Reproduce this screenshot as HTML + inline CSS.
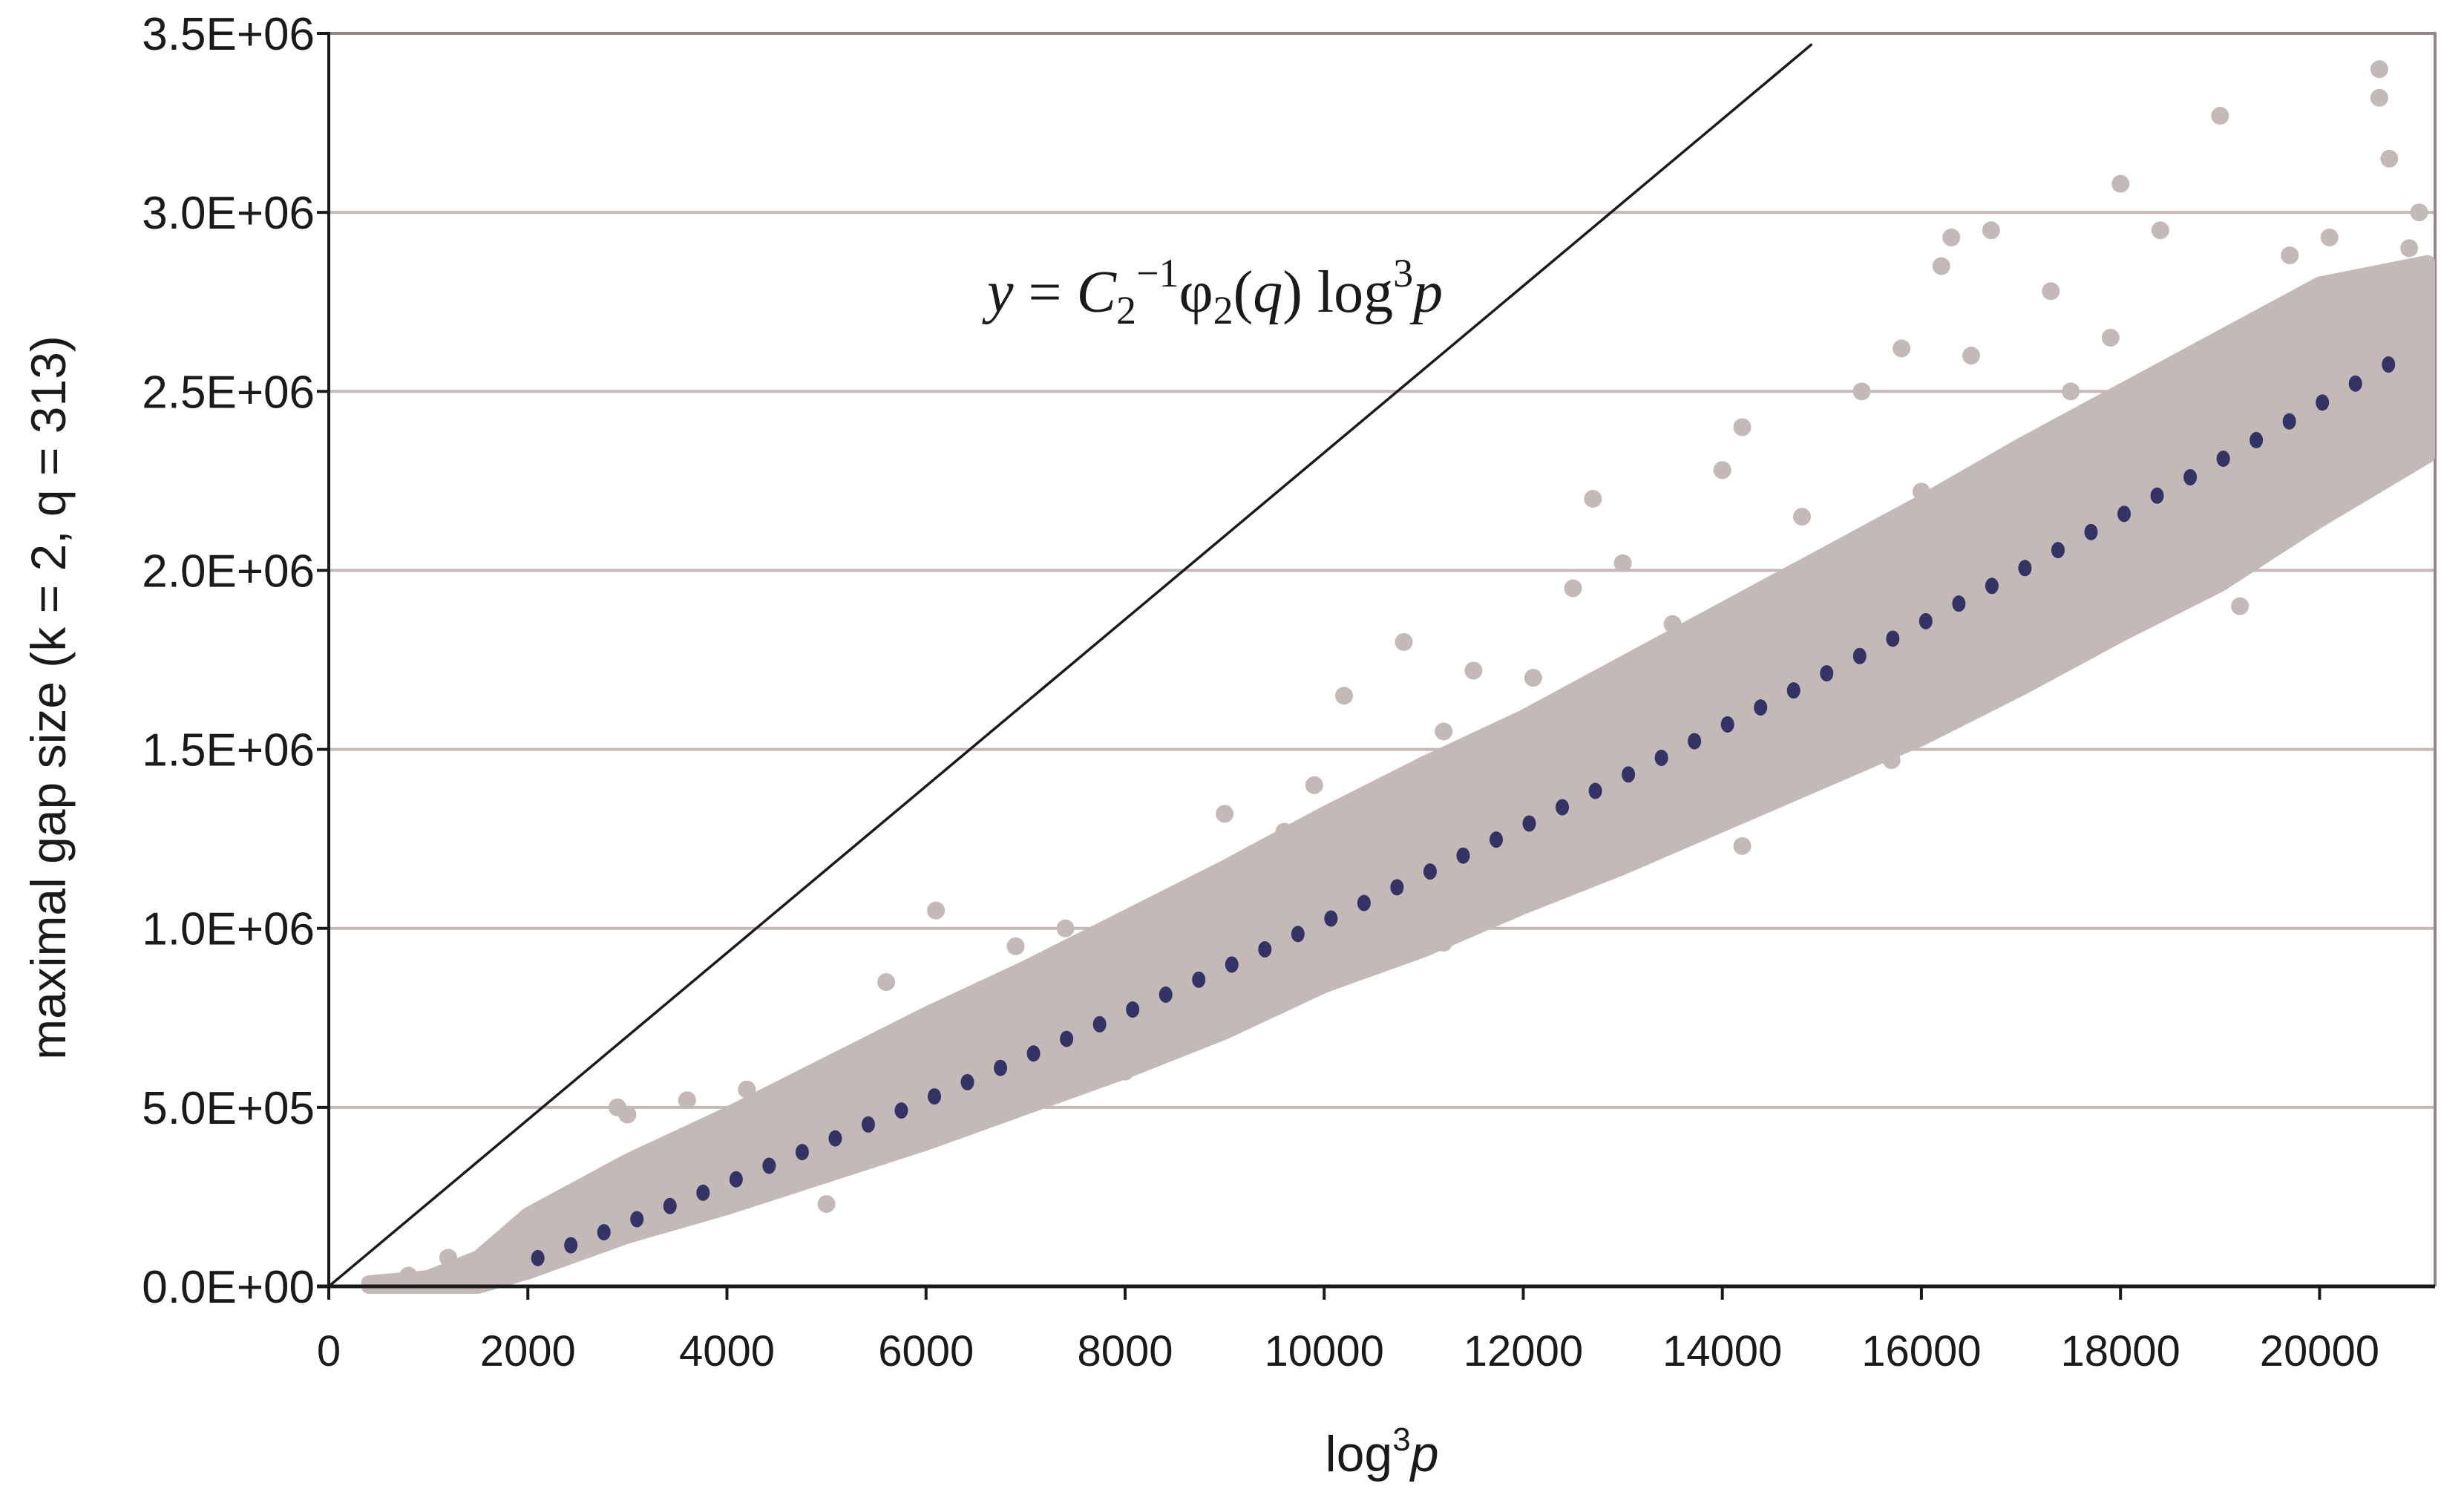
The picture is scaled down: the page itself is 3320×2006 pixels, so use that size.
<!DOCTYPE html>
<html><head><meta charset="utf-8"><style>
html,body{margin:0;padding:0;background:#fff;}
svg{display:block;}
text{font-family:"Liberation Sans",sans-serif;fill:#1a1a1a;}
</style></head><body>
<svg id="chart" width="3320" height="2006" viewBox="0 0 3320 2006" xmlns="http://www.w3.org/2000/svg">
<g id="grid"></g>
<g id="band"></g>
<g id="outliers"></g>
<g id="trend"></g>
<g id="axes"></g>
<text x="1330" y="420" style="font-family:'Liberation Serif',serif;font-size:80px"><tspan font-style="italic">y</tspan> = <tspan font-style="italic">C</tspan><tspan font-size="54" dy="16">2</tspan><tspan font-size="54" dy="-50">−1</tspan><tspan dy="34">φ</tspan><tspan font-size="54" dy="16">2</tspan><tspan dy="-16">(</tspan><tspan font-style="italic">q</tspan>) log<tspan font-size="54" dy="-34">3</tspan><tspan font-style="italic" dy="34">p</tspan></text>
<text x="0" y="0" transform="translate(88,940) rotate(-90)" text-anchor="middle" font-size="66">maximal gap size  (k = 2, q = 313)</text>
<text x="1862" y="1982" text-anchor="middle" font-size="68">log<tspan font-size="44" dy="-28">3</tspan><tspan font-style="italic" dy="28">p</tspan></text>
</svg>
<script>
const xTicks=[0,2000,4000,6000,8000,10000,12000,14000,16000,18000,20000];
const yTicks=[0,500000,1000000,1500000,2000000,2500000,3000000,3500000];
const yTickLabels=["0.0E+00","5.0E+05","1.0E+06","1.5E+06","2.0E+06","2.5E+06","3.0E+06","3.5E+06"];
const trendX=[2100,2432,2764,3096,3428,3760,4092,4424,4756,5088,5420,5752,6084,6416,6748,7080,7412,7744,8076,8408,8740,9072,9404,9736,10068,10400,10732,11064,11396,11728,12060,12392,12724,13056,13388,13720,14052,14384,14716,15048,15380,15712,16044,16376,16708,17040,17372,17704,18036,18368,18700,19032,19364,19696,20028,20360,20692];
const trendY=[0.079,0.1149,0.1511,0.1876,0.2244,0.2615,0.2991,0.3369,0.3750,0.4134,0.4522,0.4912,0.5306,0.5703,0.6102,0.6505,0.6912,0.7321,0.7733,0.8149,0.8567,0.8989,0.9414,0.9843,1.0274,1.0709,1.1147,1.1588,1.2032,1.2479,1.2929,1.3383,1.3840,1.4300,1.4763,1.5228,1.5698,1.6170,1.6646,1.7125,1.7607,1.8092,1.8581,1.9072,1.9567,2.0065,2.0566,2.1070,2.1578,2.2088,2.2602,2.3119,2.3639,2.4162,2.4689,2.5218,2.5751];
const bandX=[400,1000,1500,2000,3000,4000,5000,6000,7000,8000,9000,10000,11000,12000,13000,14000,15000,16000,17000,18000,19000,20000,21200];
const bandLow=[0,0,0,0.04,0.14,0.22,0.31,0.4,0.5,0.6,0.71,0.84,0.94,1.06,1.17,1.29,1.41,1.53,1.67,1.82,1.96,2.14,2.32];
const bandHigh=[0.01,0.025,0.08,0.2,0.35,0.48,0.62,0.76,0.89,1.03,1.17,1.32,1.46,1.59,1.74,1.89,2.04,2.19,2.35,2.5,2.65,2.8,2.86];
const outX=[6100,10800,12700,13000,14200,14000,16200,16300,16700,17300,18000,19000,19700,20600,20600,20700,21000,20100,15800,16500,18400,15400,2900,3000,4200,9000,9600,11200,12100,7400,14600,6900,10200,11500,13500,17900,19400,1200,800,12500,16000,14800,14200,15700,19200,20400,8000,11200,5000,20900,18800,17500,13200,9900,5600,3600];
const outY=[1.05,1.8,2.2,2.02,2.4,2.28,2.85,2.93,2.95,2.78,3.08,3.27,2.88,3.4,3.32,3.15,3.0,2.93,2.62,2.6,2.95,2.5,0.5,0.48,0.55,1.32,1.27,1.55,1.7,1.0,1.9,0.95,1.65,1.72,1.85,2.65,2.7,0.08,0.03,1.95,2.22,2.15,1.23,1.47,1.9,2.35,0.6,0.96,0.23,2.9,2.55,2.5,1.75,1.4,0.85,0.52];

const X0=443,X1=3281,Y0=1733,Y1=45,XMAX=21160,YMAX=3500000;
const sx=v=>X0+(X1-X0)*v/XMAX;
const sy=v=>Y0-(Y0-Y1)*v/YMAX;
const NS="http://www.w3.org/2000/svg";
function mk(tag,parent,attrs){const e=document.createElementNS(NS,tag);for(const k in attrs)e.setAttribute(k,attrs[k]);parent.appendChild(e);return e;}
const grid=document.getElementById('grid'),axes=document.getElementById('axes');
yTicks.forEach((t,i)=>{
  if(t>0){const l=mk('line',grid,{x1:X0,x2:X1,y1:sy(t),y2:sy(t),stroke:i==yTicks.length-1?'#958683':'#c3b9b7','stroke-width':4});
  
  }
  const tk=mk('line',axes,{x1:X0-16,x2:X0,y1:sy(t),y2:sy(t),stroke:'#1a1a1a','stroke-width':4});
  
  
  const tx=mk('text',axes,{x:424,y:sy(t)+22,'text-anchor':'end','font-size':62});
  tx.textContent=yTickLabels[i];
  
  
});
const rb=mk('line',grid,{x1:X1,x2:X1,y1:Y1-2,y2:Y0,stroke:'#958683','stroke-width':4});


const band=document.getElementById('band');
let pts=bandX.map((x,i)=>Math.min(sx(x),X1-10)+','+sy(bandHigh[i]*1e6));
for(let i=bandX.length-1;i>=0;i--)pts.push(Math.min(sx(bandX[i]),X1-10)+','+sy(bandLow[i]*1e6));
const pg=mk('polygon',band,{points:pts.join(' '),fill:'#c3b9b7',stroke:'#c3b9b7','stroke-width':20,'stroke-linejoin':'round'});


const og=document.getElementById('outliers');
outX.forEach((x,i)=>{const c=mk('circle',og,{cx:sx(x),cy:sy(outY[i]*1e6),r:12,fill:'#c3b9b7'});
  
  });
const lineX=[0,14900];const lineY=[0,3470000];
const ln=mk('line',axes,{x1:sx(lineX[0]),y1:sy(lineY[0]),x2:sx(lineX[1]),y2:sy(lineY[1]),stroke:'#1a1a1a','stroke-width':3.5});


const tg=document.getElementById('trend');
trendX.forEach((x,i)=>{const e=mk('ellipse',tg,{cx:sx(x),cy:sy(trendY[i]*1e6),rx:9,ry:11,fill:'#333366'});
  
  });
const ya=mk('line',axes,{x1:X0,x2:X0,y1:Y1-2,y2:Y0+18,stroke:'#1a1a1a','stroke-width':4});


const xa=mk('line',axes,{x1:X0-16,x2:X1,y1:Y0,y2:Y0,stroke:'#1a1a1a','stroke-width':5});


xTicks.forEach(t=>{
  const tk=mk('line',axes,{x1:sx(t),x2:sx(t),y1:Y0,y2:Y0+18,stroke:'#1a1a1a','stroke-width':4});
  
  
  const tx=mk('text',axes,{x:sx(t),y:1840,'text-anchor':'middle','font-size':58});
  tx.textContent=String(t);
  
  
});
</script>
</body></html>
